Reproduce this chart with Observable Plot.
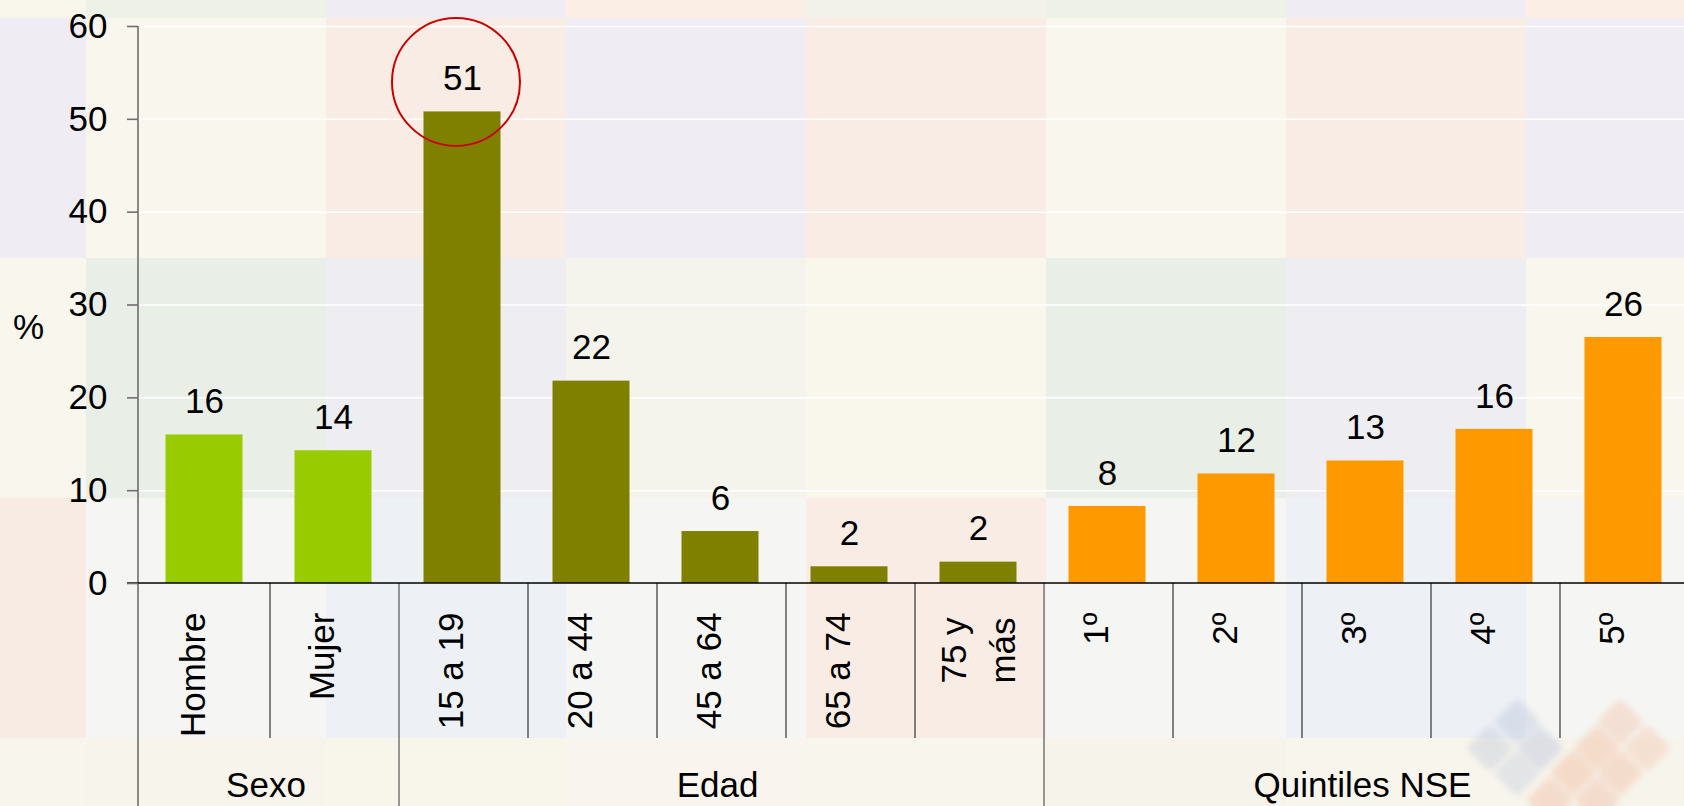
<!DOCTYPE html>
<html>
<head>
<meta charset="utf-8">
<script src="https://cdn.jsdelivr.net/npm/d3@7"></script>
<script src="https://cdn.jsdelivr.net/npm/@observablehq/plot@0.6"></script>
<style>
  html, body { margin: 0; padding: 0; overflow: hidden; width: 1684px; height: 806px; background: #f8f5ee; }
  #bg { position: absolute; left: 0; top: 0; width: 1684px; height: 806px; overflow: hidden; }
  #bg div { position: absolute; }
  #bg div.gem { transform: rotate(45deg); filter: blur(3px); border-radius: 5px; }
  #chart { position: absolute; left: 0; top: 0; width: 1691px; }
  #chart svg { max-width: none !important; }
</style>
</head>
<body>
<div id="bg"></div>
<div id="chart"></div>
<script>
// ---- data ----
const categories = ["Hombre", "Mujer", "15 a 19", "20 a 44", "45 a 64", "65 a 74", "75 y\nmás", "1º", "2º", "3º", "4º", "5º"];
const groups = ["Sexo", "Sexo", "Edad", "Edad", "Edad", "Edad", "Edad", "Quintiles NSE", "Quintiles NSE", "Quintiles NSE", "Quintiles NSE", "Quintiles NSE"];
const values = [16.0, 14.3, 50.8, 21.8, 5.6, 1.8, 2.3, 8.3, 11.8, 13.2, 16.6, 26.5];
const valueLabels = ["16", "14", "51", "22", "6", "2", "2", "8", "12", "13", "16", "26"];
const groupNames = ["Sexo", "Edad", "Quintiles NSE"];
const groupColors = ["#99cc00", "#808000", "#ff9900"];
const yTicks = [0, 10, 20, 30, 40, 50, 60];
const yLabel = "%";
const highlighted = ["15 a 19"];

const data = categories.map((c, i) => ({category: c, group: groups[i], value: values[i], label: valueLabels[i]}));
const singleLine = data.filter(d => !d.category.includes("\n"));
const multiLine = data.filter(d => d.category.includes("\n"));

// ---- decorative tiled background ----
const tileColors = [
  ["#f9f6ec", "#eef1e7", "#efedf3", "#fbeee4", "#f3f2ea", "#eef1e7", "#efedf3", "#fbeee4"],
  ["#efedf3", "#f9f6ee", "#f9ece5", "#efedf3", "#f9ece5", "#f9f6ee", "#f9ece5", "#efedf3"],
  ["#f9f6ee", "#e9efe7", "#eeedf2", "#f5f4ec", "#f9f6ec", "#e9efe7", "#eeedf2", "#f9f6ee"],
  ["#f8ebe4", "#f5f6f3", "#edf0f5", "#f5f6f4", "#f9ece5", "#f5f6f3", "#edf0f5", "#f5f6f3"],
  ["#f8f5ec", "#f7f4ec", "#f8f5ea", "#f9f5ee", "#f8f5ec", "#f6f4ea", "#f8f5ec", "#f7f4ec"]
];
const bg = document.getElementById("bg");
tileColors.forEach((row, r) => row.forEach((col, c) => {
  const d = document.createElement("div");
  d.style.left = (-154 + c * 240) + "px";
  d.style.top = (-222 + r * 240) + "px";
  d.style.width = "240px";
  d.style.height = "240px";
  d.style.background = col;
  bg.appendChild(d);
}));
// faint logo of diamonds (bottom right)
const logo = [
  [1517, 722, "#c3cde0"], [1490, 748, "#c9d0dc"], [1540, 748, "#c6cbe0"], [1517, 773, "#cdd5e0"],
  [1620, 722, "#f3c9b4"], [1597, 748, "#f2c5ab"], [1647, 748, "#f3cdb5"], [1573, 773, "#f2c2a8"],
  [1620, 773, "#f2c6ad"], [1550, 800, "#f3c4ab"], [1597, 800, "#f2c5ad"]
];
logo.forEach(([cx, cy, col]) => {
  const d = document.createElement("div");
  d.className = "gem";
  d.style.left = (cx - 17) + "px";
  d.style.top = (cy - 17) + "px";
  d.style.width = "34px";
  d.style.height = "34px";
  d.style.background = col;
  d.style.opacity = "0.5";
  bg.appendChild(d);
});

// ---- structure: axis line, zero line, category separators, group labels ----
function structure(index, scales, values_, dims) {
  const x = scales.x, y = scales.y;
  const step = x(categories[1]) - x(categories[0]);
  const left = dims.marginLeft;
  const right = dims.width - dims.marginRight;
  const y0 = y(0);
  const catBottom = y0 + 155;
  const g = d3.create("svg:g");
  categories.forEach((c, i) => {
    if (i === 0) return;
    const groupStart = groups[i] !== groups[i - 1];
    g.append("line")
      .attr("x1", x(c)).attr("x2", x(c))
      .attr("y1", y0).attr("y2", groupStart ? dims.height : catBottom)
      .attr("stroke", groupStart ? "#555" : "#333").attr("stroke-width", 1.2);
  });
  g.append("line")
    .attr("x1", left).attr("x2", left)
    .attr("y1", y(60)).attr("y2", dims.height)
    .attr("stroke", "#6e6e6e").attr("stroke-width", 1.6);
  g.append("line")
    .attr("x1", left - 11).attr("x2", right)
    .attr("y1", y0).attr("y2", y0)
    .attr("stroke", "#000").attr("stroke-width", 1.6);
  groupNames.forEach(gn => {
    const cats = categories.filter((c, i) => groups[i] === gn);
    const a = x(cats[0]);
    const b = x(cats[cats.length - 1]) + step;
    g.append("text")
      .attr("x", (a + b) / 2 - 4).attr("y", dims.height - 9)
      .attr("text-anchor", "middle")
      .attr("fill", "#000")
      .attr("font-size", 35)
      .text(gn);
  });
  return g.node();
}

const chart = Plot.plot({
  width: 1691,
  height: 806,
  marginLeft: 138,
  marginRight: 0,
  marginTop: 26,
  marginBottom: 223,
  style: {background: "transparent", fontFamily: "'Liberation Sans', Arial, sans-serif", fontSize: "35px", color: "#000", overflow: "hidden", maxWidth: "none"},
  x: {domain: categories, padding: 0, axis: null},
  y: {domain: [0, 60], axis: null},
  color: {domain: groupNames, range: groupColors},
  marks: [
    Plot.ruleY(yTicks.filter(t => t > 0), {stroke: "#ffffff", strokeWidth: 1.5}),
    Plot.barY(data, {x: "category", y: "value", fill: "group", insetLeft: 24.5, insetRight: 27.5}),
    structure,
    Plot.axisY({ticks: yTicks, tickSize: 11, tickPadding: 20, fontSize: 35, stroke: "#6e6e6e", strokeWidth: 1.6, label: null}),
    Plot.text(data, {x: "category", y: "value", text: "label", dy: -33, dx: -1.5, fontSize: 35, fill: "#000"}),
    Plot.text(singleLine, {x: "category", text: "category", frameAnchor: "bottom", rotate: -90, textAnchor: "end", dy: 29, dx: -1, fontSize: 35, fill: "#000"}),
    Plot.text(multiLine, {x: "category", text: "category", frameAnchor: "bottom", rotate: -90, textAnchor: "middle", dx: 35, dy: 67, lineHeight: 1.4, fontSize: 35, fill: "#000"}),
    Plot.dot(data.filter(d => highlighted.includes(d.category)), {x: "category", y: "value", r: 64, stroke: "#cc0000", strokeWidth: 2, fill: "none", dx: -8, dy: -30}),
    Plot.text([yLabel], {frameAnchor: "left", textAnchor: "middle", dx: -110, dy: 23, fontSize: 35, fill: "#000"})
  ]
});
document.getElementById("chart").appendChild(chart);
</script>
</body>
</html>
